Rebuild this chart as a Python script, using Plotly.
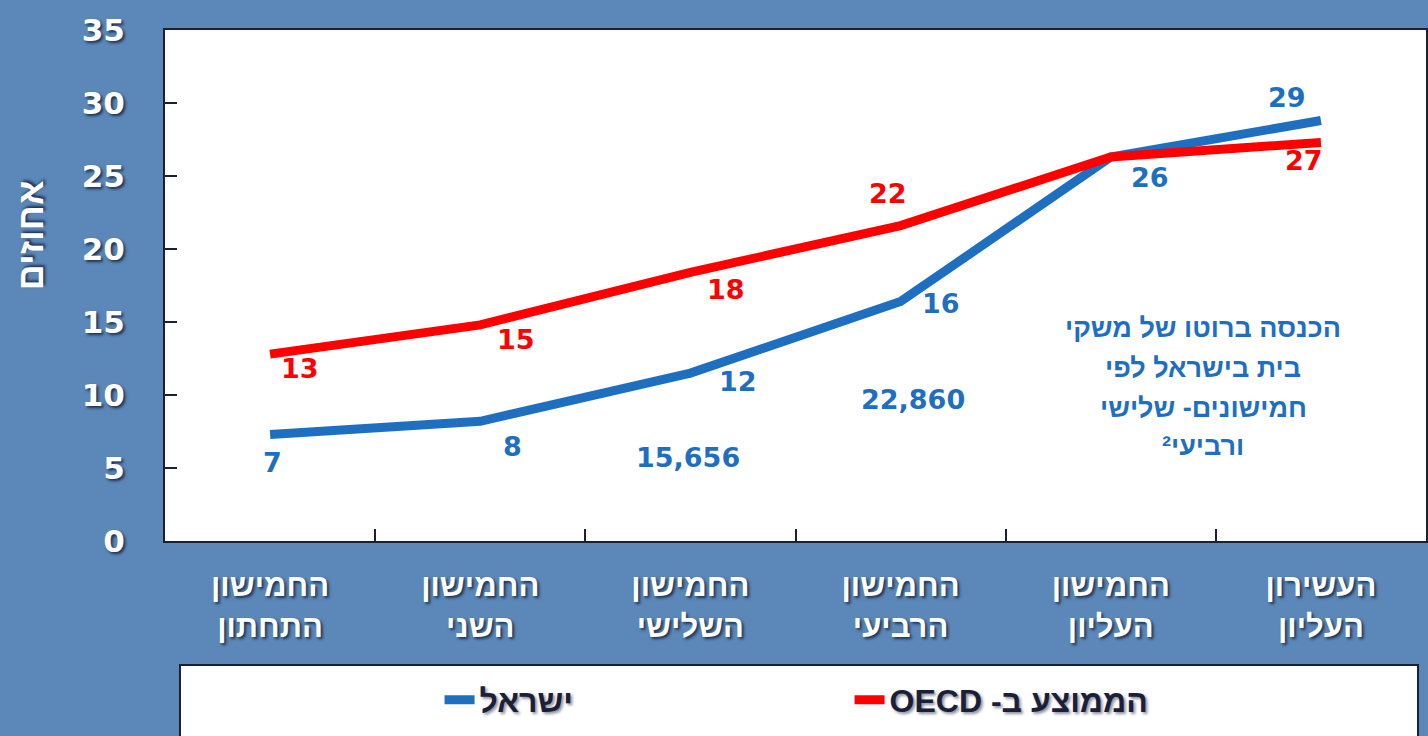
import plotly.graph_objects as go

categories = ["החמישון<br>התחתון", "החמישון<br>השני", "החמישון<br>השלישי",
              "החמישון<br>הרביעי", "החמישון<br>העליון", "העשירון<br>העליון"]
israel = [7.3, 8.2, 11.5, 16.4, 26.3, 28.8]
oecd = [12.8, 14.8, 18.4, 21.6, 26.3, 27.3]
israel_labels = ["7", "8", "12", "16", "26", "29"]
oecd_labels = ["13", "15", "18", "22", "", "27"]
income_cats = [2, 3]
income_values = [5.7, 9.7]
income_labels = ["15,656", "22,860"]
note_lines = ["הכנסה ברוטו של משקי", "בית בישראל לפי", "חמישונים- שלישי", "ורביעי²"]
series_names = ["ישראל", "\u202bהממוצע ב- OECD\u202c"]
y_title = "אחוזים"

BLUE = "#1f6fc0"
RED = "#ff0000"
BG = "#5b88b8"
DARK = "#1b2036"
HEB = "Liberation Sans, DejaVu Sans, sans-serif"
NUM = "DejaVu Sans, Liberation Sans, sans-serif"
WSHADOW = "2px 2px 3px #1e3050"

fig = go.Figure()
fig.add_trace(go.Scatter(x=categories, y=israel, mode="lines", name=series_names[0],
                         line=dict(color=BLUE, width=9)))
fig.add_trace(go.Scatter(x=categories, y=oecd, mode="lines", name=series_names[1],
                         line=dict(color=RED, width=9)))

annotations = []
isr_off = [(2, -28), (32, -25), (48, -8), (40, -2), (39, -20), (-34, 23)]
oecd_off = [(30, -14), (36, -15), (36, -17), (-13, 32), (0, 0), (-17, -18)]
for i, (v, t) in enumerate(zip(israel, israel_labels)):
    annotations.append(dict(x=categories[i], y=v, text=t, showarrow=False,
                            xanchor="center", yanchor="middle",
                            xshift=isr_off[i][0], yshift=isr_off[i][1],
                            font=dict(family=NUM, size=27, color=BLUE, weight="bold")))
for i, (v, t) in enumerate(zip(oecd, oecd_labels)):
    if t:
        annotations.append(dict(x=categories[i], y=v, text=t, showarrow=False,
                                xanchor="center", yanchor="middle",
                                xshift=oecd_off[i][0], yshift=oecd_off[i][1],
                                font=dict(family=NUM, size=27, color=RED, weight="bold")))
inc_off = [-2, 12]
for c, v, t, dx in zip(income_cats, income_values, income_labels, inc_off):
    annotations.append(dict(x=categories[c], y=v, text=t, showarrow=False, xshift=dx,
                            xanchor="center", yanchor="middle",
                            font=dict(family=NUM, size=27, color=BLUE, weight="bold")))

note_y = [328, 368, 408, 446]
for line, py in zip(note_lines, note_y):
    annotations.append(dict(xref="paper", yref="paper", x=(1205 - 165) / 1263,
                            y=(541 - py) / 511, text=line, showarrow=False,
                            xanchor="center", yanchor="middle",
                            font=dict(family=HEB, size=27, color=BLUE, weight="bold")))

annotations.append(dict(xref="paper", yref="paper", x=(30 - 165) / 1263, y=(541 - 235) / 511,
                        text=y_title, textangle=-90, showarrow=False,
                        xanchor="center", yanchor="middle",
                        font=dict(family=HEB, size=36, color="white", weight="bold",
                                  shadow=WSHADOW)))

shapes = [dict(type="rect", xref="paper", yref="paper",
               x0=(180 - 165) / 1263, x1=(1420 - 165) / 1263,
               y0=(541 - 745) / 511, y1=(541 - 665) / 511,
               fillcolor="white", line=dict(color=DARK, width=2), layer="below")]

fig.update_layout(
    width=1428, height=736,
    margin=dict(l=165, r=0, t=30, b=195),
    paper_bgcolor=BG, plot_bgcolor="white",
    showlegend=True,
    legend=dict(orientation="h", x=(440 - 165) / 1263, y=(541 - 700) / 511,
                xanchor="left", yanchor="middle", bgcolor="rgba(0,0,0,0)",
                entrywidth=365, entrywidthmode="pixels",
                font=dict(family=HEB, size=32, color=DARK, weight="bold",
                          shadow="2px 2px 3px #8a8fa0")),
    annotations=annotations,
    shapes=shapes,
    xaxis=dict(type="category", range=[-0.5, 5.5], showline=True, linecolor=DARK,
               linewidth=2, mirror=True, ticks="inside", tickson="boundaries",
               ticklen=12, tickcolor=DARK, tickwidth=1.5, showgrid=False,
               tickfont=dict(family=HEB, size=31, color="white", weight="bold",
                             shadow=WSHADOW),
               ticklabelstandoff=16),
    yaxis=dict(range=[0, 35], dtick=5, showline=True, linecolor=DARK, linewidth=2,
               mirror=True, ticks="inside", ticklen=12, tickcolor=DARK, tickwidth=1.5,
               showgrid=False, zeroline=False,
               tickfont=dict(family=NUM, size=31, color="white", weight="bold",
                             shadow=WSHADOW),
               ticklabelstandoff=32),
)

fig.write_html("out.html", config={"displayModeBar": False},
               post_script="document.body.style.margin='0px';")
